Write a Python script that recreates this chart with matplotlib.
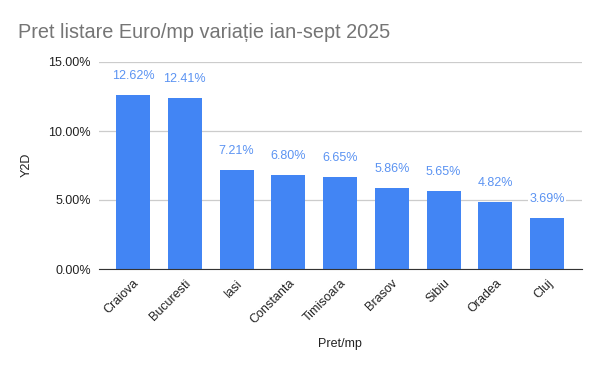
import matplotlib
matplotlib.use("Agg")
import matplotlib.pyplot as plt
from matplotlib.ticker import FuncFormatter

plt.rcParams["font.family"] = ["Liberation Sans", "DejaVu Sans"]

cities = ["Craiova", "Bucuresti", "Iasi", "Constanta", "Timisoara",
          "Brasov", "Sibiu", "Oradea", "Cluj"]
values = [12.62, 12.41, 7.21, 6.80, 6.65, 5.86, 5.65, 4.82, 3.69]
yticks = [0, 5, 10, 15]

BAR = "#4285F4"

fig = plt.figure(figsize=(6, 3.71), dpi=100)
ax = fig.add_axes([99 / 600, 1 - 269 / 371, (582 - 99) / 600, (269 - 62) / 371])

x = range(len(cities))
bars = ax.bar(x, values, width=0.657, color=BAR, zorder=2)
for b, v in zip(bars, values):
    ax.annotate(f"{v:.2f}%", (b.get_x() + b.get_width() / 2, v),
                xytext=(0, 19), textcoords="offset pixels",
                ha="center", va="center", fontsize=9, color="#5b93f2",
                bbox=dict(facecolor="white", edgecolor="none", pad=1), zorder=3)

ax.set_xlim(-0.657, 8.676)
ax.set_ylim(0, 15)
ax.set_yticks(yticks)
ax.yaxis.set_major_formatter(FuncFormatter(lambda v, p: f"{v:.2f}%"))
ax.grid(axis="y", color="#cccccc", linewidth=0.9, zorder=0)
ax.set_xticks(list(x))
ax.set_xticklabels(cities, rotation=45, ha="right", rotation_mode="anchor")
ax.tick_params(length=0, labelsize=9, colors="#222222")
ax.tick_params(axis="x", pad=6)
ax.tick_params(axis="y", pad=6)
for s in ["top", "right", "left"]:
    ax.spines[s].set_visible(False)
ax.spines["bottom"].set_color("#333333")
ax.spines["bottom"].set_zorder(4)

fig.text(27 / 600, 1 - 165 / 371, "Y2D", rotation=90, ha="center", va="center",
         fontsize=9, color="#222222")
fig.text(340 / 600, 1 - 344 / 371, "Pret/mp", ha="center", va="center",
         fontsize=9, color="#222222")
fig.text(18 / 600, 1 - 33 / 371, "Pret listare Euro/mp variație ian-sept 2025",
         ha="left", va="center", fontsize=14.3, color="#757575")

fig.savefig("out.png", dpi=100)
